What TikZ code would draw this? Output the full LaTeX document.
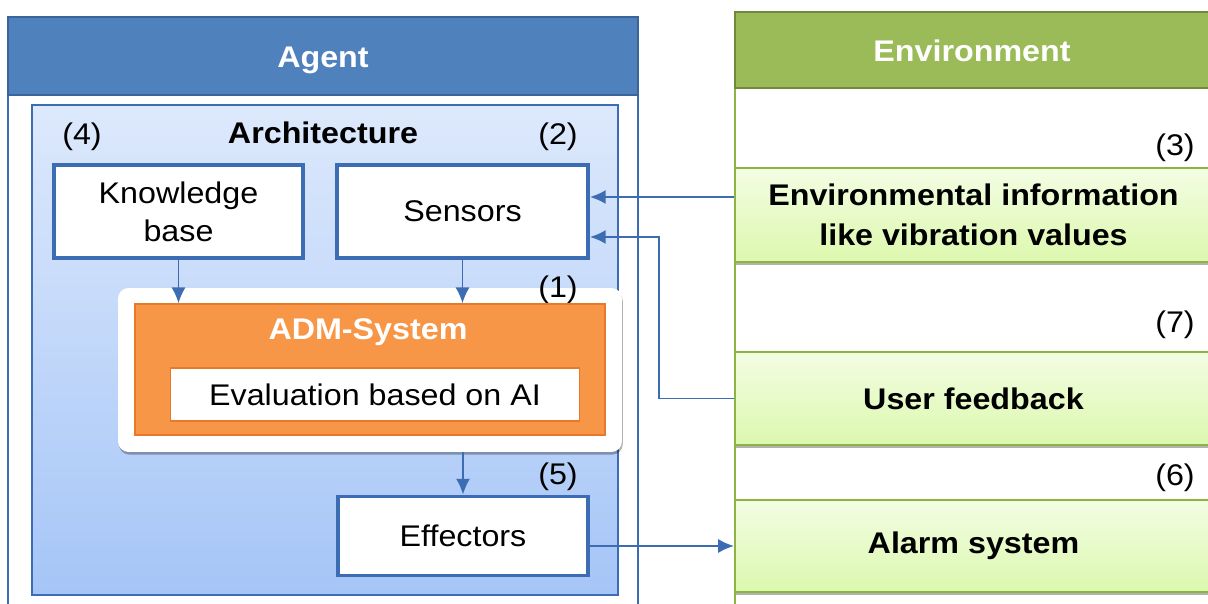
\documentclass[tikz,border=0pt]{standalone}
\usepackage{fontspec}
\setmainfont{Liberation Sans}[FakeStretch=1.08]
\usetikzlibrary{shadows,arrows.meta}

\definecolor{agentblue}{HTML}{4F81BD}
\definecolor{agentdark}{HTML}{3A659A}
\definecolor{lineblue}{HTML}{3C6DB4}
\definecolor{archtop}{HTML}{DDE9FC}
\definecolor{archbottom}{HTML}{A5C5F7}
\definecolor{admorange}{HTML}{F79646}
\definecolor{admdark}{HTML}{E8792A}
\definecolor{envgreen}{HTML}{9BBB59}
\definecolor{envdark}{HTML}{6F8A3A}
\definecolor{envline}{HTML}{8DB342}
\definecolor{envtop}{HTML}{F3FDE3}
\definecolor{envbottom}{HTML}{DCF8AE}

\tikzset{
  title/.style={font=\fontsize{17}{20}\selectfont\bfseries},
  part/.style={draw=lineblue, line width=2.2pt, fill=white, align=center},
  envbox/.style={draw=envline, line width=1.2pt, top color=envtop, bottom color=envbottom,
    minimum width=9.54cm, align=center, font=\fontsize{17}{22.5}\selectfont\bfseries,
    drop shadow={shadow xshift=0.5pt, shadow yshift=-1.5pt, fill=black, opacity=0.3}},
  arr/.style={draw=lineblue, line width=1.1pt, -{Latex[length=9pt,width=8pt]}}
}

\begin{document}
\begin{tikzpicture}[x=0.02cm, y=-0.02cm, every node/.style={font=\fontsize{17}{21.5}\selectfont}]
  \clip (0,0) rectangle (1208,604);

  % Draw the agent frame and its header
  \draw[lineblue, line width=1.6pt, fill=white] (8,17) rectangle (638,640);
  \draw[agentdark, line width=1.6pt, fill=agentblue] (8,17) rectangle (638,95);
  \node[title, text=white] (agent) at (323,60) {Agent};

  % Architecture area
  \draw[lineblue, line width=1pt, top color=archtop, bottom color=archbottom] (32,105) rectangle (618,595);
  \node[title] (arch) at (323,133) {Architecture};
  \node (n4) at (82,137) {(4)};
  \node (n2) at (558,137) {(2)};
  \node (n5) at (558,477) {(5)};

  \node[part, minimum width=4.98cm, minimum height=1.86cm] (kb) at (178.5,211.5) {Knowledge\\base};
  \node[part, minimum width=5.02cm, minimum height=1.86cm] (sens) at (462.5,211.5) {Sensors};

  % ADM-System on its white card
  \node[fill=white, rounded corners=6pt, minimum width=10.08cm, minimum height=3.28cm,
    drop shadow={shadow xshift=0.5pt, shadow yshift=-1.5pt, fill=black, opacity=0.3}] (card) at (370,370) {};
  \node (n1) at (558,290) {(1)};
  \node[fill=admorange, draw=admdark, line width=0.8pt, minimum width=9.4cm, minimum height=2.62cm] (adm) at (370,369.5) {};
  \node[title, text=white] (admtitle) at (368,332) {ADM-System};
  \node[fill=white, draw=admdark, line width=0.6pt, minimum width=8.2cm, minimum height=1.06cm] (eval) at (375,394.5) {Evaluation based on AI};

  \node[part, minimum width=5cm, minimum height=1.58cm] (eff) at (463,536) {Effectors};

  % Draw the environment frame and its parts
  \draw[envline, line width=1.6pt, fill=white] (735,88) rectangle (1300,640);
  \draw[envdark, line width=1.6pt, fill=envgreen] (735,12) rectangle (1300,88);
  \node[title, text=white] (env) at (972,51) {Environment};
  \node (n3) at (1175,148) {(3)};
  \node (n7) at (1175,325) {(7)};
  \node (n6) at (1175,478) {(6)};

  \node[envbox, minimum height=1.88cm] (info) at (973.5,215) {Environmental information\\like vibration values};
  \node[envbox, minimum height=1.86cm] (feedback) at (973.5,398.5) {User feedback};
  \node[envbox, minimum height=1.84cm] (alarm) at (973.5,546) {Alarm system};

  % Connectors
  \coordinate (sensin1) at ([yshift=0.29cm]sens.east);
  \coordinate (sensin2) at ([yshift=-0.51cm]sens.east);
  \coordinate (effout) at (eff.east |- alarm.west);
  \draw[arr] (kb.south) -- (kb.south |- adm.north);
  \draw[arr] (sens.south) -- (sens.south |- adm.north);
  \draw[arr] (card.south -| eff.north) -- (eff.north);
  \draw[arr] (info.west |- sensin1) -- (sensin1);
  \draw[arr] (feedback.west) -- ++(-1.5cm,0) |- (sensin2);
  \draw[arr] (effout) -- (alarm.west);
\end{tikzpicture}
\end{document}
